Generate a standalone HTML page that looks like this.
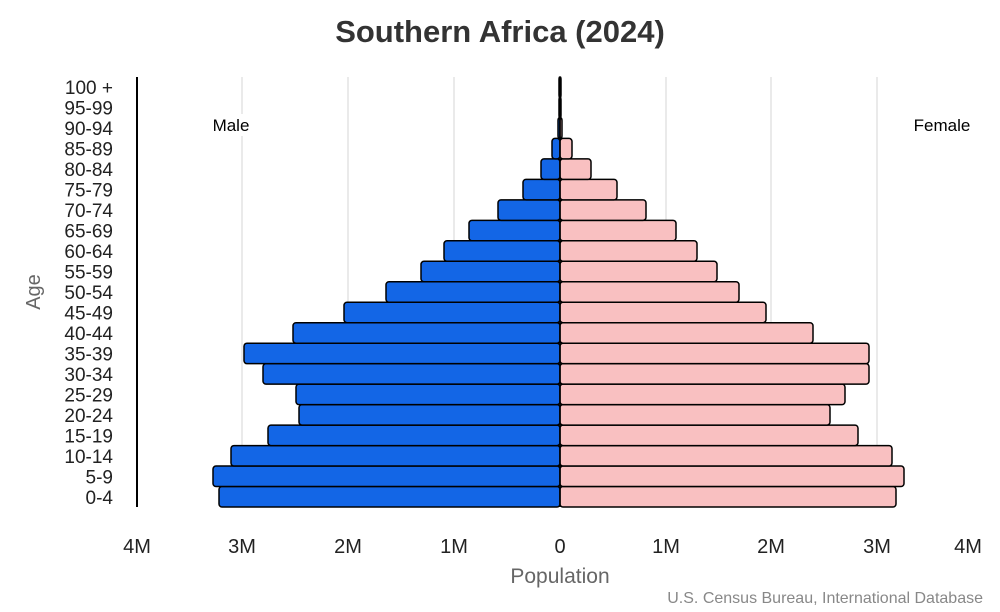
<!DOCTYPE html>
<html><head><meta charset="utf-8"><style>body{margin:0;background:#fff}svg{display:block}</style></head>
<body>
<svg width="1000" height="612" xmlns="http://www.w3.org/2000/svg" font-family="Liberation Sans, Arial, sans-serif">
<rect width="1000" height="612" fill="#fff"/>
<text x="500" y="42" text-anchor="middle" font-size="31" font-weight="bold" fill="#333">Southern Africa (2024)</text>
<g stroke="#e3e3e3" stroke-width="1.5">
<line x1="242" y1="77" x2="242" y2="507"/><line x1="348" y1="77" x2="348" y2="507"/><line x1="454" y1="77" x2="454" y2="507"/>
<line x1="666" y1="77" x2="666" y2="507"/><line x1="771" y1="77" x2="771" y2="507"/><line x1="877" y1="77" x2="877" y2="507"/>
</g>
<line x1="137" y1="77" x2="137" y2="507" stroke="#000" stroke-width="2"/>
<rect x="205" y="114" width="54" height="22" fill="#fff"/>
<text x="231" y="131" text-anchor="middle" font-size="17" fill="#000">Male</text>
<rect x="903" y="114" width="80" height="22" fill="#fff"/>
<text x="942" y="131" text-anchor="middle" font-size="17" fill="#000">Female</text>
<g id="bars" stroke="#000" stroke-width="1.5"></g>
<g id="labels" font-size="19" fill="#222" text-anchor="end"></g>
<g font-size="20" fill="#222" text-anchor="middle">
<text x="137" y="553">4M</text><text x="242" y="553">3M</text><text x="348" y="553">2M</text><text x="454" y="553">1M</text><text x="560" y="553">0</text>
<text x="666" y="553">1M</text><text x="771" y="553">2M</text><text x="877" y="553">3M</text><text x="968" y="553">4M</text>
</g>
<text x="560" y="583" text-anchor="middle" font-size="21" fill="#666">Population</text>
<text x="40" y="292" text-anchor="middle" font-size="20" fill="#666" transform="rotate(-90 40 292)">Age</text>
<text x="983" y="603" text-anchor="end" font-size="16" fill="#888">U.S. Census Bureau, International Database</text>
<script>
var ages=["0-4","5-9","10-14","15-19","20-24","25-29","30-34","35-39","40-44","45-49","50-54","55-59","60-64","65-69","70-74","75-79","80-84","85-89","90-94","95-99","100 +"];
var m=[219,213,231,268,299,296,263,244,293,344,386,421,444,469,498,523,541,552,558,559,559];
var f=[896,904,892,858,830,845,869,869,813,766,739,717,697,676,646,617,591,572,562,561,561];
var ns="http://www.w3.org/2000/svg",g=document.getElementById("bars"),L=document.getElementById("labels");
var h=430/21;
for(var i=0;i<21;i++){var y=507-(i+1)*h;
 function r(x,w,c){var e=document.createElementNS(ns,"rect");e.setAttribute("x",x);e.setAttribute("y",y);e.setAttribute("width",Math.max(w,1));e.setAttribute("height",h);e.setAttribute("rx",3);e.setAttribute("fill",c);g.appendChild(e);}
 r(m[i],560-m[i],"#1366e6");r(560,f[i]-560,"#f9c0c1");
 var t=document.createElementNS(ns,"text");t.setAttribute("x",113);t.setAttribute("y",y+h/2+7);t.textContent=ages[i];L.appendChild(t);}
var l=document.createElementNS(ns,"line");l.setAttribute("x1",560);l.setAttribute("x2",560);l.setAttribute("y1",77);l.setAttribute("y2",507);l.setAttribute("stroke","#000");l.setAttribute("stroke-width",1.5);g.appendChild(l);
</script>
</svg>
</body></html>
